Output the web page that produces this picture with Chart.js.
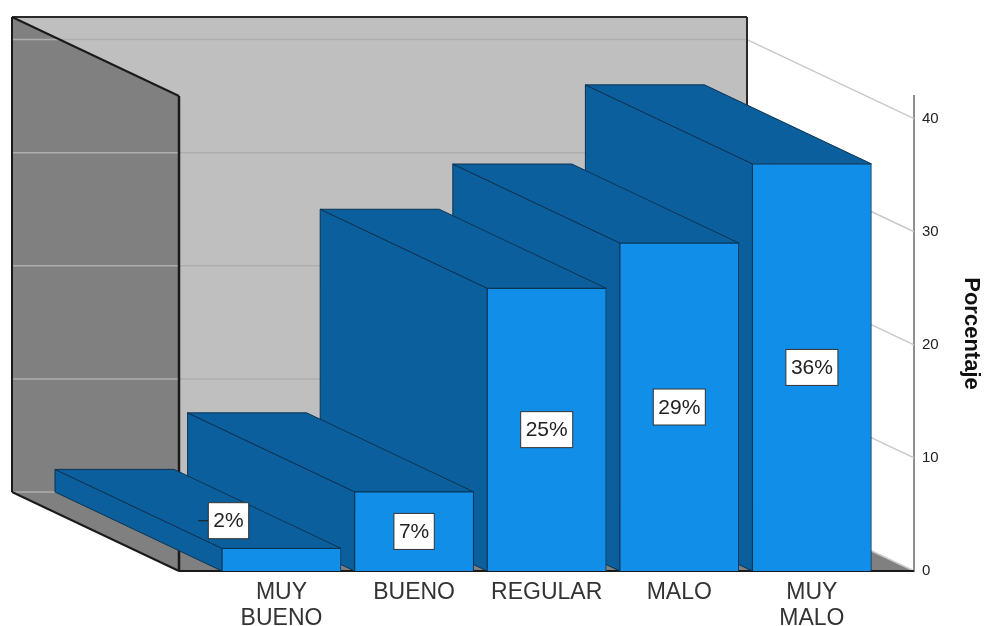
<!DOCTYPE html>
<html>
<head>
<meta charset="utf-8">
<title>Porcentaje</title>
<script src="https://cdn.jsdelivr.net/npm/chart.js@4"></script>
<style>
  html, body { margin: 0; padding: 0; background: #fff; }
  canvas { display: block; }
</style>
</head>
<body>
<canvas id="barras" width="984" height="626"></canvas>
<script>
// ---------------- datos ----------------
const categorias = [["MUY", "BUENO"], "BUENO", "REGULAR", "MALO", ["MUY", "MALO"]];
const porcentajes = [2, 7, 25, 29, 36];
const marcasEje = [0, 10, 20, 30, 40];

// profundidad de la caja 3D, en pixeles
const FONDO_X = 167;
const FONDO_Y = 79;

function poligono(ctx, puntos, relleno, borde, ancho) {
    ctx.beginPath();
    puntos.forEach((p, i) => i ? ctx.lineTo(p[0], p[1]) : ctx.moveTo(p[0], p[1]));
    ctx.closePath();
    if (relleno) { ctx.fillStyle = relleno; ctx.fill(); }
    if (borde) { ctx.strokeStyle = borde; ctx.lineWidth = ancho || 1; ctx.stroke(); }
}

function linea(ctx, x1, y1, x2, y2, color, ancho) {
    ctx.beginPath();
    ctx.moveTo(x1, y1);
    ctx.lineTo(x2, y2);
    ctx.strokeStyle = color;
    ctx.lineWidth = ancho;
    ctx.stroke();
}

// paredes, piso y lineas de grilla detras de las barras
const caja3D = {
    id: "caja3D",
    beforeDatasetsDraw(chart) {
        const ctx = chart.ctx;
        const a = chart.chartArea;
        const y = chart.scales.y;
        const izq = a.left - FONDO_X, der = a.right - FONDO_X;
        const arr = a.top - FONDO_Y, aba = a.bottom - FONDO_Y;
        ctx.save();

        poligono(ctx, [[izq, arr], [der, arr], [der, aba], [izq, aba]], "#bfbfbf");
        poligono(ctx, [[izq, aba], [der, aba], [a.right, a.bottom], [a.left, a.bottom]], "#808080");
        poligono(ctx, [[izq, arr], [a.left, a.top], [a.left, a.bottom], [izq, aba]], "#808080");

        marcasEje.forEach(v => {
            const py = y.getPixelForValue(v);
            linea(ctx, izq, py - FONDO_Y, der, py - FONDO_Y, "#aeaeae", 1.5);
            linea(ctx, der, py - FONDO_Y, a.right, py, "#c9c9c9", 1.5);
        });

        linea(ctx, izq, arr, der, arr, "#2a2a2a", 2);
        linea(ctx, der, arr, der, aba, "#2a2a2a", 2);
        linea(ctx, izq, arr, izq, aba, "#1a1a1a", 2);
        linea(ctx, izq, arr, a.left, a.top, "#1a1a1a", 2);
        linea(ctx, a.left, a.top, a.left, a.bottom, "#1a1a1a", 2.5);
        linea(ctx, izq, aba, a.left, a.bottom, "#1a1a1a", 2);
        linea(ctx, a.left, a.bottom, a.right, a.bottom, "#1a1a1a", 2);

        // caras lateral y superior, de atras hacia adelante
        const barras = chart.getDatasetMeta(0).data;
        for (let i = barras.length - 1; i >= 0; i--) {
            const b = barras[i];
            const x1 = b.x - b.width / 2, x2 = b.x + b.width / 2;
            const lado = [[x1, b.y], [x1, b.base], [x1 - FONDO_X, b.base - FONDO_Y], [x1 - FONDO_X, b.y - FONDO_Y]];
            const tapa = [[x1, b.y], [x2, b.y], [x2 - FONDO_X, b.y - FONDO_Y], [x1 - FONDO_X, b.y - FONDO_Y]];
            poligono(ctx, lado, "#0b5f9c", "#0b3354", 1);
            poligono(ctx, tapa, "#0b5f9c", "#0b3354", 1);
        }
        ctx.restore();
    },
    afterDatasetsDraw(chart) {
        const ctx = chart.ctx;
        const barras = chart.getDatasetMeta(0).data;
        ctx.save();
        ctx.font = "21px 'Liberation Sans'";
        ctx.textAlign = "center";
        ctx.textBaseline = "middle";
        barras.forEach((b, i) => {
            const texto = porcentajes[i] + "%";
            const ancho = ctx.measureText(texto).width + 10;
            const alto = 36;
            let cx = b.x, cy = (b.y + b.base) / 2;
            // si la etiqueta no entra en el frente se corre sobre la cara superior
            if (b.base - b.y < alto) {
                cx -= 53;
                cy -= 39;
                linea(ctx, cx - ancho / 2 - 10, cy, cx - ancho / 2, cy, "#1a1a1a", 1);
            }
            ctx.fillStyle = "#fff";
            ctx.strokeStyle = "#333";
            ctx.lineWidth = 1;
            ctx.fillRect(cx - ancho / 2, cy - alto / 2, ancho, alto);
            ctx.strokeRect(cx - ancho / 2, cy - alto / 2, ancho, alto);
            ctx.fillStyle = "#222";
            ctx.fillText(texto, cx, cy + 1);
        });
        ctx.restore();
    }
};

let barras3D = new Chart(document.getElementById("barras"), {
    type: "bar",
    plugins: [caja3D],
    data: {
        datasets: [{
            label: "Porcentaje",
            data: porcentajes.map((v, i) => ({ x: i, y: v })),
            backgroundColor: "#118fe8",
            borderColor: "#0b3354",
            borderWidth: 1,
            barThickness: 119
        }]
    },
    options: {
        responsive: false,
        animation: false,
        layout: { padding: { top: 96, left: 179 } },
        plugins: {
            legend: { display: false },
            tooltip: { enabled: false }
        },
        scales: {
            x: {
                type: "linear",
                offset: false,
                min: -0.773,
                max: 4.77,
                afterFit(s) { s.height = 55; },
                grid: { display: false, drawTicks: false },
                border: { display: false },
                ticks: {
                    stepSize: 1,
                    includeBounds: false,
                    autoSkip: false,
                    maxRotation: 0,
                    padding: 9,
                    color: "#333",
                    font: { family: "'Liberation Sans'", size: 23, lineHeight: 1.13 },
                    callback: v => categorias[v]
                }
            },
            y: {
                position: "right",
                min: 0,
                max: 42,
                afterFit(s) { s.width = 70; },
                grid: { display: false, drawTicks: false },
                border: { display: true, color: "#8f8f8f", width: 2 },
                ticks: {
                    stepSize: 10,
                    includeBounds: false,
                    padding: 8,
                    color: "#222",
                    font: { family: "'Liberation Sans'", size: 15 }
                },
                title: {
                    display: true,
                    text: "Porcentaje",
                    color: "#111",
                    font: { family: "'Liberation Sans'", size: 22, weight: "bold" },
                    padding: { top: 0, bottom: 4 }
                }
            }
        }
    }
});
</script>
</body>
</html>
